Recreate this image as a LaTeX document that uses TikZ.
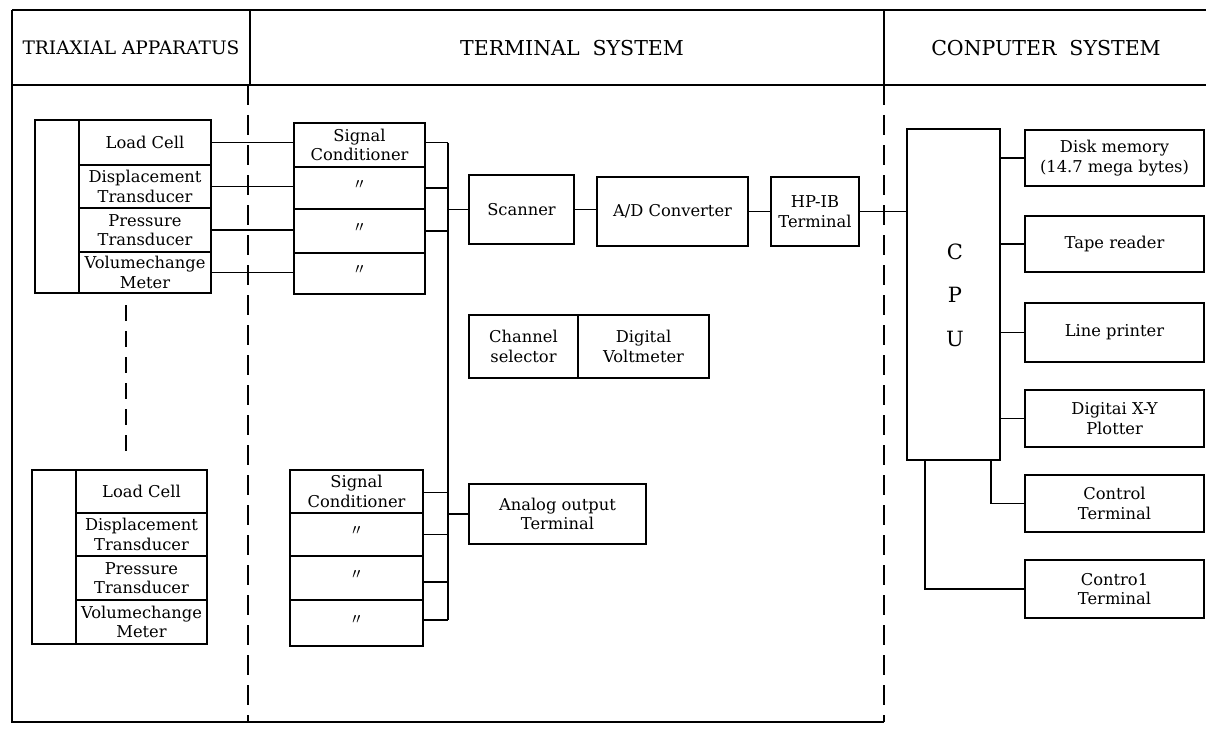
\documentclass[tikz,border=0pt]{standalone}
\usepackage{fontspec}
\setmainfont{DejaVu Serif}
\usetikzlibrary{calc}
\begin{document}
\begin{tikzpicture}[x=1pt,y=-1pt,
  every node/.style={font=\fontsize{16.3}{19.5}\selectfont, align=center, inner sep=0pt, outer sep=0pt},
  box/.style={draw, line width=1.7pt, anchor=north west},
  frame/.style={line width=1.9pt},
  sep/.style={line width=2.1pt, dash pattern=on 20pt off 10pt},
  wire/.style={line width=1.6pt},
  head/.style={font=\fontsize{18.6}{22}\selectfont},
  bighead/.style={font=\fontsize{20.5}{22}\selectfont},
  ditto/.style={font=\fontsize{20}{20}\selectfont}
]
\useasboundingbox (0,0) rectangle (1206,733);

% ---- frame and headers
\draw[frame] (12,10) -- (1206,10);
\draw[frame] (12,85) -- (1206,85);
\draw[frame] (12,10) -- (12,722) -- (884,722);
\draw[frame] (250,10) -- (250,85);
\draw[frame] (884,10) -- (884,85);
\draw[sep] (248,85) -- (248,722);
\draw[sep] (884,85) -- (884,722);
\node[head] (h1) at (131,48) {TRIAXIAL APPARATUS};
\node[bighead] (h2) at (572,48) {TERMINAL\hspace{13pt}SYSTEM};
\node[bighead] (h3) at (1046,48) {CONPUTER\hspace{13pt}SYSTEM};

% ---- triaxial apparatus 1
\node[box, minimum width=44, minimum height=173] (a1col) at (35,120) {};
\node[box, minimum width=132, minimum height=45] (lc1) at (79,120) {Load Cell};
\node[box, minimum width=132, minimum height=43] (dt1) at (79,165) {Displacement\\Transducer};
\node[box, minimum width=132, minimum height=44] (pt1) at (79,208) {Pressure\\Transducer};
\node[box, minimum width=132, minimum height=41] (vm1) at (79,252) {Volumechange\\Meter};

% ---- triaxial apparatus 2
\node[box, minimum width=44, minimum height=174] (a2col) at (32,470) {};
\node[box, minimum width=131, minimum height=43] (lc2) at (76,470) {Load Cell};
\node[box, minimum width=131, minimum height=43] (dt2) at (76,513) {Displacement\\Transducer};
\node[box, minimum width=131, minimum height=44] (pt2) at (76,556) {Pressure\\Transducer};
\node[box, minimum width=131, minimum height=44] (vm2) at (76,600) {Volumechange\\Meter};

\draw[line width=2.1pt, dash pattern=on 16pt off 10pt] ($(a1col.south east)+(47,12)$) -- ($(a2col.north east)+(50,-10)$);

% ---- signal conditioners 1
\node[box, minimum width=131, minimum height=44] (s1a) at (294,123) {Signal\\Conditioner};
\node[box, minimum width=131, minimum height=42, ditto] (s1b) at (294,167) {$''$};
\node[box, minimum width=131, minimum height=44, ditto] (s1c) at (294,209) {$''$};
\node[box, minimum width=131, minimum height=41, ditto] (s1d) at (294,253) {$''$};

% ---- signal conditioners 2
\node[box, minimum width=133, minimum height=43] (s2a) at (290,470) {Signal\\Conditioner};
\node[box, minimum width=133, minimum height=43, ditto] (s2b) at (290,513) {$''$};
\node[box, minimum width=133, minimum height=44, ditto] (s2c) at (290,556) {$''$};
\node[box, minimum width=133, minimum height=46, ditto] (s2d) at (290,600) {$''$};

\coordinate (bus) at (448,0);

% ---- sensor -> conditioner
\draw[wire] (lc1.east) -- (lc1.east -| s1a.west);
\draw[wire] (dt1.east) -- (dt1.east -| s1b.west);
\draw[wire] (pt1.east) -- (pt1.east -| s1c.west);
\draw[wire] (vm1.east) -- (vm1.east -| s1d.west);

% ---- conditioner -> bus
\draw[wire] (lc1.east -| s1a.east) -- (lc1.east -| bus);
\draw[wire] (s1b.east) -- (s1b.east -| bus);
\draw[wire] (s1c.east) -- (s1c.east -| bus);
\draw[wire] ([yshift=-1]s2a.east) -- ([yshift=-1]s2a.east -| bus);
\draw[wire] (s2b.east) -- (s2b.east -| bus);
\draw[wire] ([yshift=-4]s2c.east) -- ([yshift=-4]s2c.east -| bus);
\draw[wire] ([yshift=3]s2d.east) -- ([yshift=3]s2d.east -| bus);
\draw[wire] (lc1.east -| bus) -- ([yshift=3]s2d.east -| bus);

% ---- terminal chain
\node[box, minimum width=105, minimum height=69] (scan) at (469,175) {Scanner};
\node[box, minimum width=151, minimum height=69] (adc) at (597,177) {A/D Converter};
\node[box, minimum width=88, minimum height=69] (hpib) at (771,177) {HP-IB\\Terminal};
\node[box, minimum width=109, minimum height=63] (chsel) at (469,315) {Channel\\selector};
\node[box, minimum width=131, minimum height=63] (dvm) at (578,315) {Digital\\Voltmeter};
\node[box, minimum width=177, minimum height=60] (aout) at (469,484) {Analog output\\Terminal};

\draw[wire] (scan.west -| bus) -- (scan.west);
\draw[wire] (scan.east) -- (scan.east -| adc.west);
\draw[wire] (adc.east) -- (adc.east -| hpib.west);
\draw[wire] (aout.west -| bus) -- (aout.west);

% ---- computer system
\node[box, minimum width=93, minimum height=331] (cpu) at (907,129) {};
\node[font=\fontsize{21}{21}\selectfont] (cpuc) at (955,252) {C};
\node[font=\fontsize{21}{21}\selectfont] (cpup) at (955,295) {P};
\node[font=\fontsize{21}{21}\selectfont] (cpuu) at (955,339) {U};

\draw[wire] (hpib.east) -- (hpib.east -| cpu.west);

\node[box, minimum width=179, minimum height=56] (disk) at (1025,130) {Disk memory\\(14.7 mega bytes)};
\node[box, minimum width=179, minimum height=56] (tape) at (1025,216) {Tape reader};
\node[box, minimum width=179, minimum height=59] (lp) at (1025,303) {Line printer};
\node[box, minimum width=179, minimum height=57] (xy) at (1025,390) {Digitai X-Y\\Plotter};
\node[box, minimum width=179, minimum height=57] (ct1) at (1025,475) {Control\\Terminal};
\node[box, minimum width=179, minimum height=58] (ct2) at (1025,560) {Contro1\\Terminal};

\draw[wire] (disk.west -| cpu.east) -- (disk.west);
\draw[wire] (tape.west -| cpu.east) -- (tape.west);
\draw[wire] (lp.west -| cpu.east) -- (lp.west);
\draw[wire] (xy.west -| cpu.east) -- (xy.west);
\draw[wire] ([xshift=-9]cpu.south east) |- (ct1.west);
\draw[wire] ([xshift=18]cpu.south west) |- (ct2.west);
\end{tikzpicture}
\end{document}
